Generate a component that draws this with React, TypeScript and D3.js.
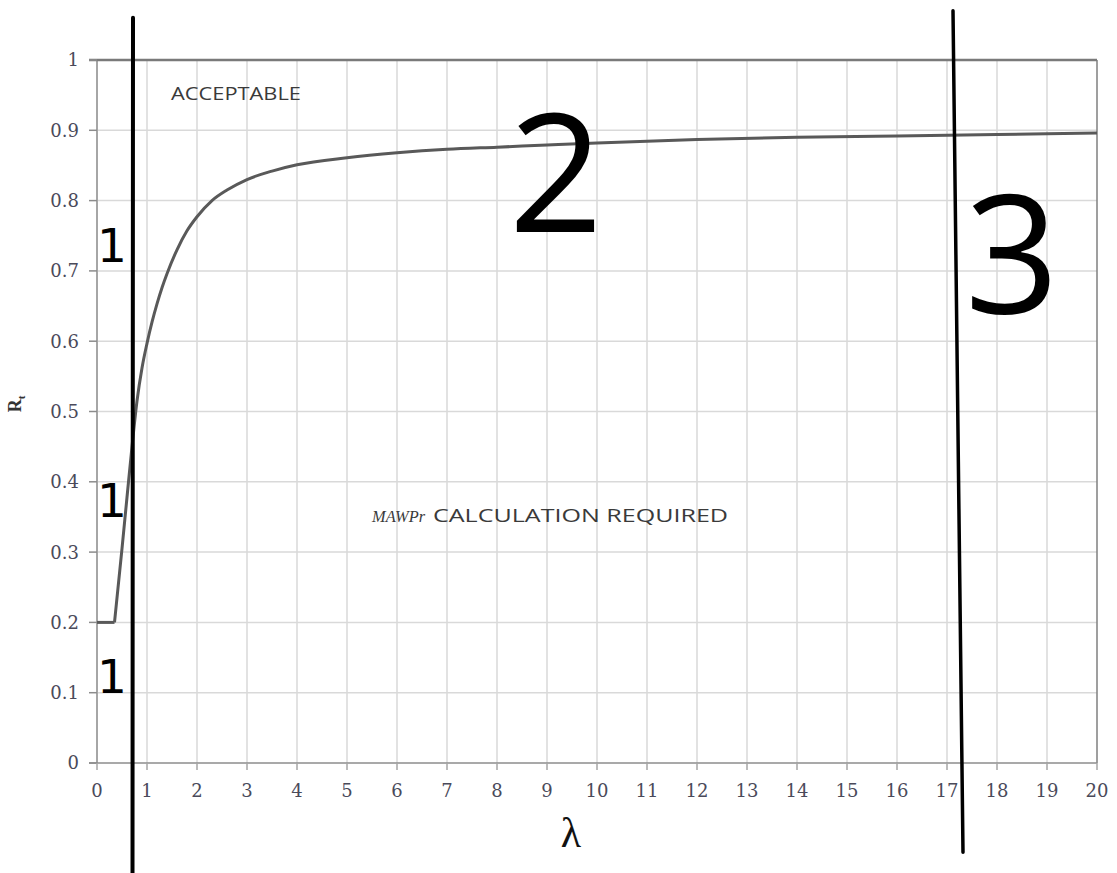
import React from "react";
import * as d3 from "d3";

// ---- data ----
const lambdaValues = [0.35, 0.5, 0.6, 0.7, 0.8, 0.9, 1.0, 1.1, 1.2, 1.3, 1.4, 1.6, 1.8, 2.0, 2.3, 2.6, 3.0, 3.5, 4, 5, 6, 7, 8, 9, 10, 12, 14, 16, 18, 20];
const rtValues = [0.2, 0.305, 0.378, 0.45, 0.515, 0.562, 0.597, 0.627, 0.653, 0.676, 0.696, 0.73, 0.757, 0.777, 0.8, 0.815, 0.83, 0.842, 0.851, 0.861, 0.868, 0.873, 0.876, 0.879, 0.882, 0.887, 0.89, 0.892, 0.894, 0.896];
const flatLambda = [0, 0.35];
const flatRt = [0.2, 0.2];

const xTickValues = d3.range(0, 21, 1);
const yTickValues = d3.range(0, 11, 1).map((d) => d / 10);
const yTickLabels = ["0", "0.1", "0.2", "0.3", "0.4", "0.5", "0.6", "0.7", "0.8", "0.9", "1"];

// annotation lines in data units [lambda, Rt]
const zoneLineA = [[0.72, 1.06], [0.71, -0.16]];
const zoneLineB = [[17.12, 1.07], [17.32, -0.127]];

// zone labels: text, lambda, Rt (baseline)
const zoneLabels = [
  { text: "1", x: 0.3, y: 0.713, size: 47 },
  { text: "1", x: 0.3, y: 0.35, size: 47 },
  { text: "1", x: 0.3, y: 0.1, size: 47 },
  { text: "2", x: 9.18, y: 0.755, size: 165 },
  { text: "3", x: 18.3, y: 0.64, size: 165 },
];

const W = 1117;
const H = 873;

export default function App() {
  const x = d3.scaleLinear().domain([0, 20]).range([97, 1097]);
  const y = d3.scaleLinear().domain([0, 1]).range([763, 60]);

  const pts = lambdaValues.map((l, i) => [l, rtValues[i]] as [number, number]);
  const flatPts = flatLambda.map((l, i) => [l, flatRt[i]] as [number, number]);

  const curveLine = d3
    .line<[number, number]>()
    .x((d) => x(d[0]))
    .y((d) => y(d[1]))
    .curve(d3.curveMonotoneX);
  const straight = d3
    .line<[number, number]>()
    .x((d) => x(d[0]))
    .y((d) => y(d[1]));

  const sans = "'Open Sans', 'DejaVu Sans', sans-serif";
  const serif = "'DejaVu Serif', 'Liberation Serif', serif";

  return (
    <svg
      width={W}
      height={H}
      style={{ position: "absolute", left: 0, top: 0, background: "#fff" }}
    >
      <rect x={0} y={0} width={W} height={H} fill="#fff" />
      {/* grid */}
      {xTickValues.slice(1, -1).map((t) => (
        <line key={"gx" + t} x1={x(t)} x2={x(t)} y1={y(0)} y2={y(1)} stroke="#d9d9d9" strokeWidth={1.5} />
      ))}
      {yTickValues.slice(1, -1).map((t) => (
        <line key={"gy" + t} x1={x(0)} x2={x(20)} y1={y(t)} y2={y(t)} stroke="#d9d9d9" strokeWidth={1.5} />
      ))}
      {/* borders */}
      <line x1={x(0)} x2={x(0)} y1={y(0)} y2={y(1)} stroke="#a6a6a6" strokeWidth={2} />
      <line x1={x(20)} x2={x(20)} y1={y(0)} y2={y(1)} stroke="#7f7f7f" strokeWidth={1.5} />
      <line x1={x(0) - 8} x2={x(20)} y1={y(1)} y2={y(1)} stroke="#7a7a7a" strokeWidth={2.5} />
      <line x1={x(0) - 8} x2={x(20)} y1={y(0)} y2={y(0)} stroke="#8c8c8c" strokeWidth={1.5} />
      {/* ticks */}
      {yTickValues.map((t) => (
        <line key={"ty" + t} x1={x(0) - 8} x2={x(0)} y1={y(t)} y2={y(t)} stroke="#8c8c8c" strokeWidth={1.5} />
      ))}
      {xTickValues.map((t) => (
        <line key={"tx" + t} x1={x(t)} x2={x(t)} y1={y(0)} y2={y(0) + 7} stroke="#a6a6a6" strokeWidth={1.5} />
      ))}
      {/* tick labels */}
      {yTickValues.map((t, i) => (
        <text
          key={"ly" + t}
          x={79}
          y={y(t)}
          dy="0.36em"
          textAnchor="end"
          fontFamily={serif}
          fontSize={18}
          fill="#4a4a5a"
        >
          {yTickLabels[i]}
        </text>
      ))}
      {xTickValues.map((t) => (
        <text
          key={"lx" + t}
          x={x(t)}
          y={797}
          textAnchor="middle"
          fontFamily={serif}
          fontSize={18}
          fill="#4a4a5a"
        >
          {t}
        </text>
      ))}
      {/* axis titles */}
      <text
        transform="translate(21,404) rotate(-90)"
        textAnchor="middle"
        fontFamily="'Liberation Serif', serif"
        fontWeight="bold"
        fontSize={18}
        fill="#333"
      >
        R<tspan dy="4" fontSize={11}>t</tspan>
      </text>
      <text x={571} y={847} textAnchor="middle" fontFamily="'Liberation Serif', serif" fontSize={42} fill="#111">
        λ
      </text>
      {/* region texts */}
      <text x={x(1.48)} y={y(0.943)} fontFamily={sans} fontSize={18} fill="#3a3a3a" textLength={130} lengthAdjust="spacingAndGlyphs">
        ACCEPTABLE
      </text>
      <text x={x(5.5)} y={y(0.343)} fontFamily="'Liberation Serif', serif" fontStyle="italic" fontSize={17} fill="#3a3a3a" textLength={53} lengthAdjust="spacingAndGlyphs">
        MAWPr
      </text>
      <text x={x(6.72)} y={y(0.343)} fontFamily={sans} fontSize={18} fill="#3a3a3a" textLength={295} lengthAdjust="spacingAndGlyphs">
        CALCULATION REQUIRED
      </text>
      {/* curve */}
      <path d={straight(flatPts) || ""} fill="none" stroke="#595959" strokeWidth={3} />
      <path d={curveLine(pts) || ""} fill="none" stroke="#595959" strokeWidth={3} />
      {/* zone lines */}
      {[zoneLineA, zoneLineB].map((ln, i) => (
        <line
          key={"zl" + i}
          x1={x(ln[0][0])}
          y1={y(ln[0][1])}
          x2={x(ln[1][0])}
          y2={y(ln[1][1])}
          stroke="#000"
          strokeWidth={i === 0 ? 4 : 3.5}
          strokeLinecap="round"
        />
      ))}
      {/* zone labels */}
      {zoneLabels.map((z, i) => (
        <text
          key={"zn" + i}
          x={x(z.x)}
          y={y(z.y)}
          textAnchor="middle"
          fontFamily={z.size > 100 ? sans : "'DejaVu Sans', sans-serif"}
          fontSize={z.size}
          fill="#000"
        >
          {z.text}
        </text>
      ))}
    </svg>
  );
}
